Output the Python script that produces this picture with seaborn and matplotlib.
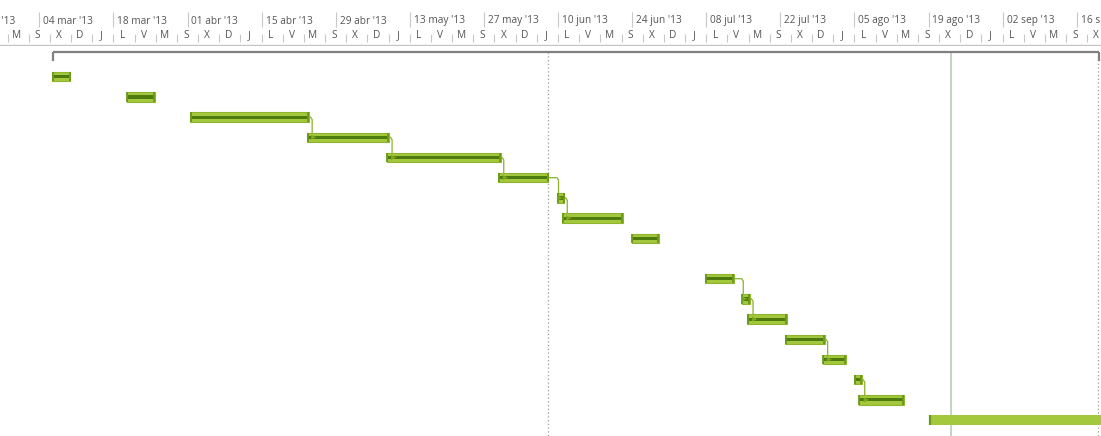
import matplotlib
matplotlib.use("Agg")
import matplotlib.pyplot as plt
import seaborn as sns
import numpy as np
import pandas as pd

# ---------------- data ----------------
ref_date = pd.Timestamp("2013-03-04")
# task start (days after ref_date) and duration (days); row 9 is empty
task_start = [2.46, 16.5, 28.5, 50.6, 65.6, 86.7, 97.8, 98.8, 111.9, np.nan,
              125.8, 132.7, 133.8, 140.9, 148.0, 153.9, 154.8, 168.1]
task_dur = [3.4, 5.4, 22.5, 15.5, 21.6, 9.5, 1.4, 11.4, 5.2, np.nan,
            5.5, 1.6, 7.5, 7.5, 4.4, 1.5, 8.6, 33.0]
# the last task is drawn in the plain (no progress line) style
plain_tasks = [17]
# dependency links (predecessor row, successor row)
links = [(2, 3), (3, 4), (4, 5), (5, 6), (6, 7), (10, 11), (11, 12), (13, 14), (15, 16)]
summary_start = 2.65
summary_end = 200.2
status_line_day = 96.05     # dotted line
current_line_day = 172.2    # solid line
finish_line_day = 200.1     # dotted line at right

top_tier_dates = ["2013-02-18", "2013-03-04", "2013-03-18", "2013-04-01", "2013-04-15",
                  "2013-04-29", "2013-05-13", "2013-05-27", "2013-06-10", "2013-06-24",
                  "2013-07-08", "2013-07-22", "2013-08-05", "2013-08-19", "2013-09-02",
                  "2013-09-16"]
top_tier_labels = ["18 feb '13", "04 mar '13", "18 mar '13", "01 abr '13", "15 abr '13",
                   "29 abr '13", "13 may '13", "27 may '13", "10 jun '13", "24 jun '13",
                   "08 jul '13", "22 jul '13", "05 ago '13", "19 ago '13", "02 sep '13",
                   "16 sep '13"]
day_letters = ["L", "M", "X", "J", "V", "S", "D"]  # Monday..Sunday
lower_tier_first = "2013-02-18"
lower_tier_step = 4

# ---------------- style ----------------
sns.set_theme(style="white")
plt.rcParams["font.family"] = ["Open Sans", "DejaVu Sans"]

W, H = 1101, 436
HEAD = 46
fig = plt.figure(figsize=(W / 100, H / 100), dpi=100)
ax_h = fig.add_axes([0, 1 - HEAD / H, 1, HEAD / H])
ax = fig.add_axes([0, 0, 1, 1 - HEAD / H])

x0, x1 = -7.425, 200.59
for a in (ax_h, ax):
    a.set_xlim(x0, x1)
    a.set_xticks([])
    a.set_yticks([])
    a.set_facecolor("white")
sns.despine(ax=ax, left=True, bottom=True, right=True, top=True)
sns.despine(ax=ax_h, left=True, bottom=True, right=True, top=True)

# ---------------- header ----------------
ax_h.set_ylim(HEAD, 0)
hdr_col = "#555555"
grid_col = "#c8c8c8"
for d, lab in zip(top_tier_dates, top_tier_labels):
    xd = (pd.Timestamp(d) - ref_date).days
    ax_h.vlines(xd, 12, 27, color=grid_col, lw=0.8)
    ax_h.text(xd + 0.75, 21, lab, ha="left", va="center", fontsize=7.3, color=hdr_col)

t = pd.Timestamp(lower_tier_first)
end_t = ref_date + pd.Timedelta(days=x1 + 4)
while t < end_t:
    xd = (t - ref_date).days
    ax_h.vlines(xd, 34, 42, color=grid_col, lw=0.8)
    ax_h.text(xd + lower_tier_step / 2 - 0.3, 36, day_letters[t.dayofweek],
              ha="center", va="center", fontsize=7.3, color=hdr_col)
    t += pd.Timedelta(days=lower_tier_step)
ax_h.axhline(45.5, color="#c4c4c4", lw=1.0)

# ---------------- chart ----------------
row0_px, row_px = 76.7, 20.2
ax.set_ylim((H - row0_px) / row_px, (HEAD - row0_px) / row_px)
y_bottom = (H - row0_px) / row_px
sum_y = -1.2

# vertical lines
ax.vlines(status_line_day, sum_y, y_bottom, color="#9a9a9a", lw=0.9, linestyles=(0, (1, 2)))
ax.vlines(finish_line_day, sum_y, y_bottom, color="#9a9a9a", lw=0.9, linestyles=(0, (1, 2)))
ax.vlines(current_line_day, sum_y, y_bottom, color="#b3c9ab", lw=1.1)

# summary bar
ax.hlines(sum_y, summary_start, summary_end, color="#808080", lw=1.6)
ax.vlines([summary_start, summary_end], sum_y, sum_y + 0.43, color="#808080", lw=1.6)

fill = "#a3c83d"
edge = "#8fb42e"
dark = "#4e7b0e"
cap = "#6a971c"
bh = 9.5 / row_px

rows = np.arange(len(task_start))
starts = np.array(task_start, dtype=float)
durs = np.array(task_dur, dtype=float)
ends = starts + durs

# connectors (drawn under bars)
conn_col = "#8cb02c"
arrow_pts = []
for p, s in links:
    xv = max(ends[p] + 0.55, starts[s] + 0.3)
    ax.plot([ends[p], xv - 0.3, xv, xv, xv + 0.4],
            [rows[p], rows[p], rows[p] + 0.12, rows[s], rows[s]],
            color=conn_col, lw=0.9, solid_joinstyle="round", zorder=2)
    arrow_pts.append((xv + 0.3, rows[s]))

for i in rows:
    if np.isnan(starts[i]):
        continue
    if i in plain_tasks:
        ax.barh(i, durs[i], left=starts[i], height=bh, color=fill, edgecolor="none", zorder=3)
        ax.vlines(starts[i] + 0.12, i - bh / 2, i + bh / 2, color=cap, lw=1.6, zorder=4)
        continue
    ax.barh(i, durs[i], left=starts[i], height=bh, color=fill, edgecolor=edge, lw=0.8, zorder=3)
    ax.barh(i, durs[i] - 0.5, left=starts[i] + 0.25, height=3.2 / row_px, color=dark,
            edgecolor="none", zorder=4)
    ax.vlines([starts[i] + 0.15, ends[i] - 0.15], i - bh / 2, i + bh / 2, color=cap,
              lw=1.3, zorder=4)

arr = pd.DataFrame(arrow_pts, columns=["x", "y"])
sns.scatterplot(data=arr, x="x", y="y", ax=ax, marker=">", s=14, color="#7aa81c",
                edgecolor="none", zorder=5, legend=False)
ax.set_xlabel("")
ax.set_ylabel("")
ax.set_xlim(x0, x1)

fig.savefig("out.png", dpi=100, facecolor="white")
